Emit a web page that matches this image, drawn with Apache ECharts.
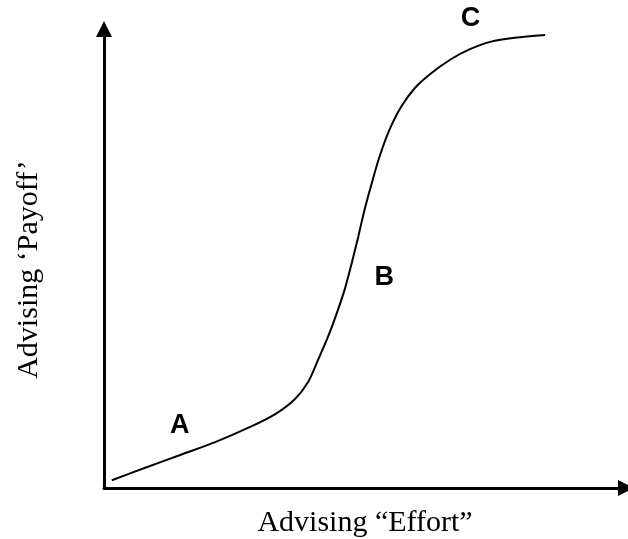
<!DOCTYPE html>
<html>
<head>
<meta charset="utf-8">
<script src="https://cdn.jsdelivr.net/npm/echarts@6/dist/echarts.min.js"></script>
<style>
    html, body {margin: 0; padding: 0; background: #fff;}
    #main {width: 628px; height: 539px;}
</style>
</head>
<body>
<div id="main"></div>
<script>
// 曲线上的点 (effort, payoff)，按 0-100 的相对刻度读取
var effort = [1.5, 7.9, 14.6, 21.3, 28.0, 32.8, 36.6, 39.1, 41.0, 42.9, 44.6, 46.2, 47.5,
    48.7, 49.8, 51.2, 52.7, 54.6, 56.9, 59.6, 62.5, 66.3, 70.1, 74.0, 78.7, 84.5];
var payoff = [1.7, 4.4, 7.2, 10.0, 13.3, 16.1, 19.4, 23.1, 27.9, 32.9, 38.1, 43.6, 49.2,
    54.7, 60.1, 66.0, 71.9, 77.8, 83.0, 87.2, 90.2, 93.3, 95.6, 97.2, 98.1, 98.7];

// 阶段标注
var stageNames = ['A', 'B', 'C'];
var stageEffort = [14.6, 53.8, 70.3];
var stagePayoff = [13.5, 45.8, 102.2];

var xTitle = 'Advising \u201cEffort\u201d';
var yTitle = 'Advising \u2018Payoff\u2019';

var myChart = echarts.init(document.getElementById('main'));

var curveData = effort.map(function (x, i) {
    return [x, payoff[i]];
});
var stageData = stageNames.map(function (n, i) {
    return {name: n, value: [stageEffort[i], stagePayoff[i]]};
});

var axisLine = {
    show: true,
    symbol: ['none', 'triangle'],
    symbolSize: [16, 16],
    lineStyle: {color: '#000', width: 3}
};

var option = {
    animation: false,
    grid: {left: 104, right: 2, top: 29, bottom: 51, outerBoundsMode: 'none', containLabel: false},
    xAxis: {
        type: 'value',
        min: 0,
        max: 100,
        name: xTitle,
        nameLocation: 'middle',
        nameGap: 20,
        nameTextStyle: {fontFamily: 'Liberation Serif', fontSize: 30, color: '#000'},
        axisLine: axisLine,
        axisTick: {show: false},
        axisLabel: {show: false},
        splitLine: {show: false}
    },
    yAxis: {
        type: 'value',
        min: 0,
        max: 100,
        name: yTitle,
        nameLocation: 'middle',
        nameGap: 60,
        nameTextStyle: {fontFamily: 'Liberation Serif', fontSize: 30, color: '#000', padding: [0, 22, 0, 0]},
        axisLine: axisLine,
        axisTick: {show: false},
        axisLabel: {show: false},
        splitLine: {show: false}
    },
    series: [
        {
            type: 'line',
            data: curveData,
            smooth: 0.3,
            showSymbol: false,
            lineStyle: {color: '#000', width: 2}
        },
        {
            type: 'scatter',
            data: stageData,
            clip: false,
            symbolSize: 1,
            itemStyle: {color: 'transparent', opacity: 1},
            label: {
                show: true,
                position: [0, 0],
                align: 'center',
                verticalAlign: 'middle',
                formatter: '{b}',
                fontFamily: 'Liberation Sans',
                fontWeight: 'bold',
                fontSize: 27,
                color: '#000'
            }
        }
    ]
};

myChart.setOption(option);
</script>
</body>
</html>
